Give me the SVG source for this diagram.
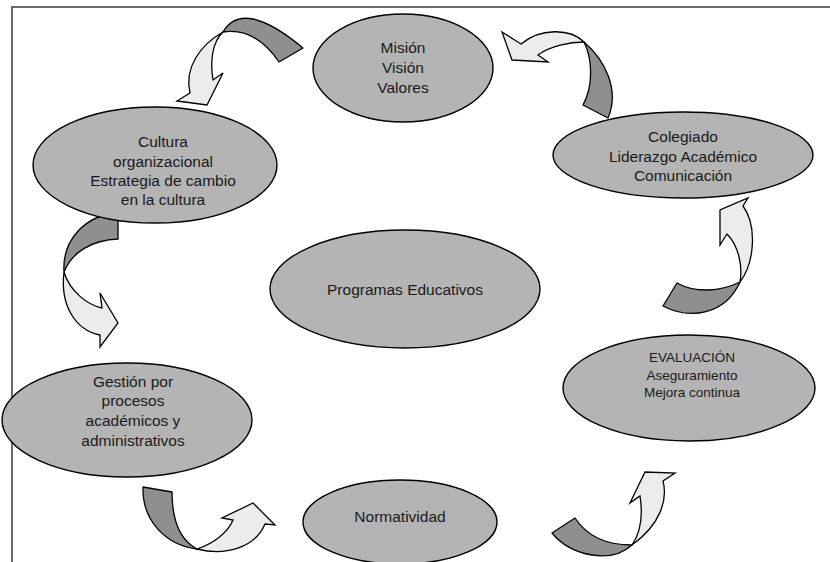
<svg xmlns="http://www.w3.org/2000/svg" width="830" height="562" viewBox="0 0 830 562">
<style>
.node ellipse{fill:#b4b4b4;stroke:#000;stroke-width:1.4}
.node text{font-family:"Liberation Sans",Arial,sans-serif;font-size:15.5px;fill:#1a1a1a;text-anchor:middle}
.node text.sm{font-size:13.5px}
.dk{fill:#8f8f8f;stroke:#000;stroke-width:1.3;stroke-linejoin:round}
.lt{fill:#ececec;stroke:#000;stroke-width:1.3;stroke-linejoin:miter}
.frame{stroke:#6a6a6a;stroke-width:2;fill:none}
</style>
<rect width="830" height="562" fill="#fff"/>
<path class="frame" d="M12,562 V7 H830"/>
<g id="connectors">
<g id="arrow-top-left">
<path class="dk" d="M223,32 Q243,-2 303,48 L279,62 Q255,27 223,32 Z"/>
<path class="lt" d="M223,32 C200,45 184,68 190,93 L177,101 L207,105 L223,73 L213,80 C210,62 212,42 223,32 Z"/>
</g>
<g id="arrow-top-right">
<path class="dk" d="M584,42 C605,60 620,90 608,118 L583,105 C594,85 592,58 584,42 Z"/>
<path class="lt" d="M584,42 C570,28 540,28 521,44 L502,32 L512,60 L548,62 L538,55 C550,46 570,42 584,42 Z"/>
</g>
<g id="arrow-left">
<path class="dk" d="M118,213 C85,215 62,240 64,272 C72,252 92,240 118,239 Z"/>
<path class="lt" d="M64,272 C60,305 75,330 100,335 L100,347 L118,323 L100,293 L102,308 C88,305 70,292 64,272 Z"/>
</g>
<g id="arrow-right">
<path class="dk" d="M663,306 C690,320 725,315 740,282 C720,292 695,293 677,283 Z"/>
<path class="lt" d="M740,282 C755,262 757,225 743,206 L748,198 L720,210 L720,245 L727,234 C738,245 743,265 740,282 Z"/>
</g>
<g id="arrow-bottom-left">
<path class="dk" d="M143,487 C142,520 165,545 197,549 C180,540 172,520 172,492 Z"/>
<path class="lt" d="M197,549 C225,556 255,548 265,524 L275,525 L253,503 L222,518 L233,520 C228,532 215,543 197,549 Z"/>
</g>
<g id="arrow-bottom-right">
<path class="dk" d="M552,533 C570,555 610,565 632,545 C610,545 588,538 575,518 Z"/>
<path class="lt" d="M632,545 C660,525 668,500 663,481 L675,473 L645,472 L630,503 L640,496 C643,515 641,532 632,545 Z"/>
</g>
</g>
<g id="node-mision" class="node">
<ellipse cx="403" cy="68" rx="90" ry="54"/>
<text x="403" y="53">Misión</text>
<text x="403" y="73">Visión</text>
<text x="403" y="93">Valores</text>
</g>
<g id="node-cultura" class="node">
<ellipse cx="155" cy="165" rx="122" ry="58"/>
<text x="163" y="147">Cultura</text>
<text x="163" y="167">organizacional</text>
<text x="163" y="186">Estrategia de cambio</text>
<text x="163" y="205">en la cultura</text>
</g>
<g id="node-colegiado" class="node">
<ellipse cx="683" cy="155" rx="130" ry="43"/>
<text x="683" y="142">Colegiado</text>
<text x="683" y="162">Liderazgo Académico</text>
<text x="683" y="181">Comunicación</text>
</g>
<g id="node-programas" class="node">
<ellipse cx="405" cy="289" rx="135" ry="59"/>
<text x="405" y="295">Programas Educativos</text>
</g>
<g id="node-gestion" class="node">
<ellipse cx="127" cy="420" rx="125" ry="57"/>
<text x="133" y="387">Gestión por</text>
<text x="133" y="406">procesos</text>
<text x="133" y="426">académicos y</text>
<text x="133" y="446">administrativos</text>
</g>
<g id="node-evaluacion" class="node">
<ellipse cx="689" cy="388" rx="126" ry="53"/>
<text class="sm" x="692" y="362">EVALUACIÓN</text>
<text class="sm" x="692" y="380">Aseguramiento</text>
<text class="sm" x="692" y="397">Mejora continua</text>
</g>
<g id="node-normatividad" class="node">
<ellipse cx="400" cy="522" rx="97" ry="42"/>
<text x="400" y="522">Normatividad</text>
</g>
</svg>
